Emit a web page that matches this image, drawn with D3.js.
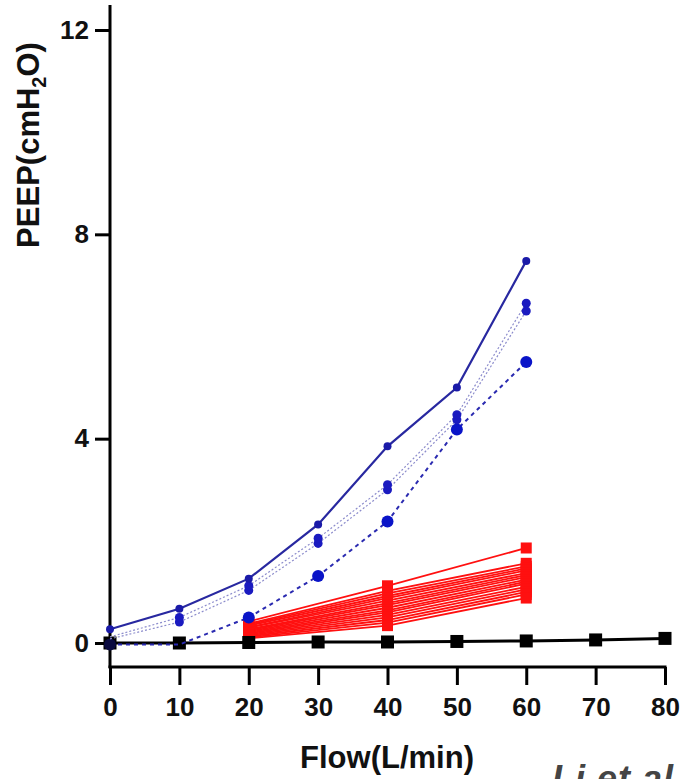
<!DOCTYPE html>
<html>
<head>
<meta charset="utf-8">
<script src="https://cdn.jsdelivr.net/npm/d3@7"></script>
<style>
  body { margin: 0; background: #fff; }
  svg { display: block; font-family: "Liberation Sans", Arial, sans-serif; }
</style>
</head>
<body>
<svg width="683" height="779"></svg>
<script>
// flow values (L/min)
const flowAll = [0, 10, 20, 30, 40, 50, 60, 70, 80];
const flowBlue = [0, 10, 20, 30, 40, 50, 60];
const flowRed = [20, 40, 60];

// PEEP values (cmH2O)
const blackVals = [0, 0, 0.01, 0.02, 0.02, 0.03, 0.04, 0.06, 0.09];
const blueSolid = [0.27, 0.67, 1.26, 2.32, 3.85, 5.0, 7.48];
const blueDotA = [0.08, 0.41, 1.03, 1.95, 3.0, 4.37, 6.5];
const blueDotB = [0.12, 0.5, 1.12, 2.05, 3.1, 4.47, 6.65];
const blueDash = [-0.03, -0.03, 0.5, 1.31, 2.38, 4.18, 5.5];

const redVals = [
  [0.42, 1.12, 1.86],
  [0.38, 1.02, 1.56],
  [0.36, 0.97, 1.5],
  [0.34, 0.92, 1.46],
  [0.31, 0.88, 1.42],
  [0.3, 0.83, 1.37],
  [0.27, 0.78, 1.33],
  [0.25, 0.74, 1.29],
  [0.23, 0.69, 1.24],
  [0.21, 0.64, 1.2],
  [0.19, 0.6, 1.16],
  [0.17, 0.55, 1.1],
  [0.15, 0.5, 1.05],
  [0.13, 0.45, 1.0],
  [0.11, 0.4, 0.95],
  [0.09, 0.34, 0.88]
];

const xTicks = [0, 10, 20, 30, 40, 50, 60, 70, 80];
const yTicks = [0, 4, 8, 12];

const svg = d3.select("svg");

const x = d3.scaleLinear().domain([0, 80]).range([110, 665]);
const y = d3.scaleLinear().domain([0, 12]).range([643, 30]);

const line = d3.line().x(d => x(d[0])).y(d => y(d[1]));
const pairs = (xs, ys) => xs.map((v, i) => [v, ys[i]]);

// y axis
const yAxis = svg.append("g")
  .attr("transform", "translate(110,0)")
  .call(d3.axisLeft(y).tickValues(yTicks).tickSize(15).tickPadding(6));
yAxis.select(".domain").remove();
svg.append("line")
  .attr("x1", 110).attr("x2", 110).attr("y1", 5).attr("y2", 668)
  .attr("stroke", "#000").attr("stroke-width", 3);

// x axis (offset below zero)
const xAxis = svg.append("g")
  .attr("transform", "translate(0,667)")
  .call(d3.axisBottom(x).tickValues(xTicks).tickSize(18).tickPadding(13));
xAxis.select(".domain").remove();
svg.append("line")
  .attr("x1", 108.5).attr("x2", 666.5).attr("y1", 667).attr("y2", 667)
  .attr("stroke", "#000").attr("stroke-width", 3);

svg.selectAll(".tick line").attr("stroke", "#000").attr("stroke-width", 3);
svg.selectAll(".tick text")
  .attr("fill", "#111")
  .style("font-size", "26px")
  .style("font-weight", "bold");

// red bundle
redVals.forEach(vals => {
  const pts = pairs(flowRed, vals);
  svg.append("path").datum(pts)
    .attr("d", line).attr("fill", "none")
    .attr("stroke", "#ff1010").attr("stroke-width", 1.8);
});
redVals.forEach(vals => {
  svg.append("g").selectAll("rect")
    .data(pairs(flowRed, vals)).enter().append("rect")
    .attr("x", d => x(d[0]) - 5.5).attr("y", d => y(d[1]) - 5.5)
    .attr("width", 11).attr("height", 11)
    .attr("fill", "#ff1010");
});

// black series
svg.append("path").datum(pairs(flowAll, blackVals))
  .attr("d", line).attr("fill", "none")
  .attr("stroke", "#000").attr("stroke-width", 3);
svg.append("g").selectAll("rect")
  .data(pairs(flowAll, blackVals)).enter().append("rect")
  .attr("x", d => x(d[0]) - 6.5).attr("y", d => y(d[1]) - 6.5)
  .attr("width", 13).attr("height", 13).attr("fill", "#000");

// blue dashed
svg.append("path").datum(pairs(flowBlue, blueDash))
  .attr("d", line).attr("fill", "none")
  .attr("stroke", "#2a2ab0").attr("stroke-width", 2)
  .attr("stroke-dasharray", "4,4");
svg.append("g").selectAll("circle")
  .data(pairs(flowBlue, blueDash).filter(d => d[0] !== 10)).enter().append("circle")
  .attr("cx", d => x(d[0])).attr("cy", d => y(d[1])).attr("r", 6)
  .attr("fill", d => d[0] === 0 ? "#0a0a40" : "#0a14c8");

// blue dotted (two replicates)
[blueDotA, blueDotB].forEach(vals => {
  svg.append("path").datum(pairs(flowBlue, vals))
    .attr("d", line).attr("fill", "none")
    .attr("stroke", "#8c8ccc").attr("stroke-width", 1.2)
    .attr("stroke-dasharray", "2,2");
});
[blueDotA, blueDotB].forEach(vals => {
  svg.append("g").selectAll("circle")
    .data(pairs(flowBlue, vals).slice(1)).enter().append("circle")
    .attr("cx", d => x(d[0])).attr("cy", d => y(d[1])).attr("r", 4.5)
    .attr("fill", "#1a1ac0");
});

// blue solid
svg.append("path").datum(pairs(flowBlue, blueSolid))
  .attr("d", line).attr("fill", "none")
  .attr("stroke", "#2828a0").attr("stroke-width", 2.2);
svg.append("g").selectAll("circle")
  .data(pairs(flowBlue, blueSolid)).enter().append("circle")
  .attr("cx", d => x(d[0])).attr("cy", d => y(d[1])).attr("r", 4)
  .attr("fill", "#1a1aa8");

// axis titles
svg.append("text")
  .attr("x", 387).attr("y", 768)
  .attr("text-anchor", "middle")
  .style("font-size", "31px").style("font-weight", "bold")
  .attr("fill", "#111")
  .text("Flow(L/min)");

const yt = svg.append("text")
  .attr("transform", "translate(39,145) rotate(-90)")
  .attr("text-anchor", "middle")
  .style("font-size", "31px").style("font-weight", "bold")
  .attr("fill", "#111");
yt.append("tspan").text("PEEP(cmH");
yt.append("tspan").attr("dy", 7).style("font-size", "20px").text("2");
yt.append("tspan").attr("dy", -7).text("O)");

// caption, cut at the bottom edge as in the source
svg.append("text")
  .attr("x", 552).attr("y", 791)
  .style("font-size", "36px").style("font-weight", "bold").style("font-style", "italic")
  .style("letter-spacing", "1px")
  .attr("fill", "#444")
  .text("Li et al");
</script>
</body>
</html>
